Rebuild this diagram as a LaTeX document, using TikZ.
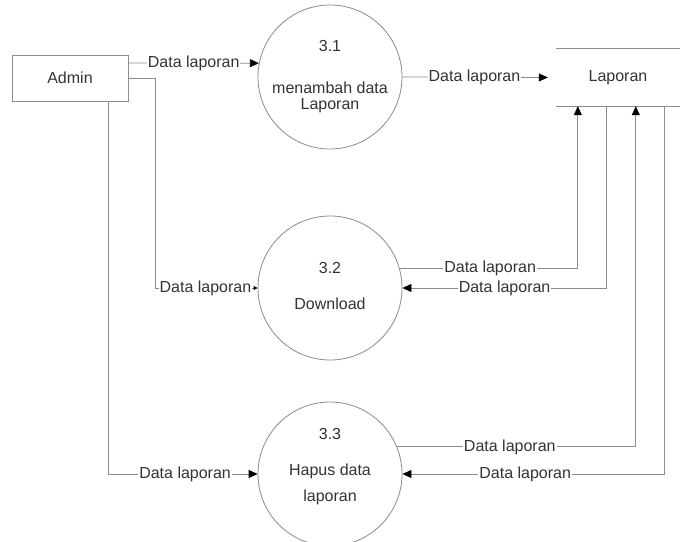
\documentclass[tikz,border=0pt]{standalone}
\usepackage{fontspec}
\setmainfont{Liberation Sans}
\usetikzlibrary{arrows.meta}
\begin{document}
\begin{tikzpicture}[x=1pt,y=-1pt,
  every node/.style={font=\fontsize{16}{18}\selectfont, text=black!80},
  line/.style={draw=black!45, line width=0.8pt},
  flow/.style={line, -{Triangle[length=9pt,width=8pt,color=black]}},
  flowsmall/.style={line, -{Triangle[length=4pt,width=4pt,color=black]}},
  lbl/.style={fill=white, inner sep=1pt},
  proc/.style={circle, draw=black!45, line width=0.8pt, minimum size=144pt, inner sep=0pt},
  entity/.style={rectangle, draw=black!45, line width=0.8pt, minimum width=116pt, minimum height=46pt},
  store/.style={rectangle, minimum width=124pt, minimum height=57pt}]
\useasboundingbox (0,0) rectangle (680,541);
\fill[white] (0,0) rectangle (680,541);

% nodes
\node[entity] (admin) at (70,78) {Admin};
\node[proc] (p31) at (330,77) {};
\node at ([yshift=31pt]p31.center) {3.1};
\node at ([yshift=-11pt]p31.center) {menambah data};
\node at ([yshift=-29pt]p31.center) {Laporan};
\node[proc] (p32) at (330,288) {};
\node at ([yshift=20pt]p32.center) {3.2};
\node at ([yshift=-16pt]p32.center) {Download};
\node[proc] (p33) at (330,474) {};
\node at ([yshift=40pt]p33.center) {3.3};
\node at ([yshift=3pt]p33.center) {Hapus data};
\node at ([yshift=-23pt]p33.center) {laporan};
\node[store] (lap) at (618,77.5) {Laporan};
\draw[line] (lap.north west) -- (lap.north east);
\draw[line] (lap.south west) -- (lap.south east);

% flows
\draw[flow] ([yshift=15pt]admin.east) -- node[lbl,pos=0.5] {Data laporan} (p31.169);
\draw[flowsmall] (admin.east) -- ++(27,0) |- node[lbl,pos=0.745] {Data laporan} (p32);
\draw[flow] ([xshift=-20pt]admin.south east) |- node[lbl,pos=0.757] {Data laporan} (p33);
\draw[flow, shorten >=8pt] (p31.east) -- node[lbl,pos=0.47] {Data laporan} (lap.west);
\draw[flow] (p32.16) -| node[lbl,pos=0.254] {Data laporan} ([xshift=22pt]lap.south west);
\draw[flow] ([xshift=51pt]lap.south west) |- node[lbl,pos=0.75] {Data laporan} (p32);
\draw[flow] (p33.22) -| node[lbl,pos=0.236] {Data laporan} ([xshift=80pt]lap.south west);
\draw[flow] ([xshift=109pt]lap.south west) |- node[lbl,pos=0.766] {Data laporan} (p33);
\end{tikzpicture}
\end{document}
